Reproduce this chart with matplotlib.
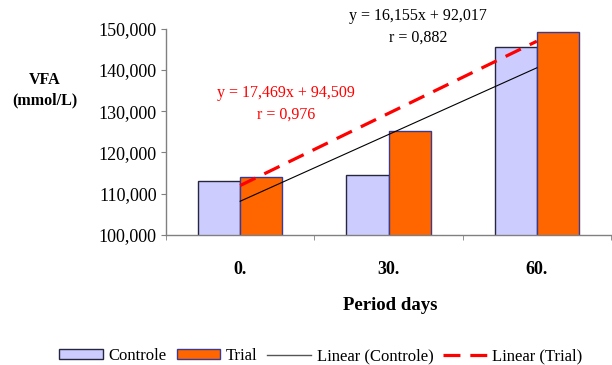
import numpy as np
import matplotlib
matplotlib.use("Agg")
import matplotlib.pyplot as plt
from matplotlib.patches import Patch
from matplotlib.lines import Line2D
from matplotlib.ticker import FuncFormatter

categories = ["0.", "30.", "60."]
controle = [113.10, 114.47, 145.41]
trial = [114.10, 125.20, 149.04]
yticks = [100, 110, 120, 130, 140, 150]
eq_controle = ["y = 16,155x + 92,017", "r = 0,882"]
eq_trial = ["y = 17,469x + 94,509", "r = 0,976"]

plt.rcParams['font.family'] = ['Liberation Serif', 'DejaVu Serif']

W, H = 612, 365
fig = plt.figure(figsize=(W / 100, H / 100), dpi=100)
ax = fig.add_axes([166 / W, 1 - 235 / H, (611 - 166) / W, (235 - 28.5) / H])

c_edge = "#262640"
t_edge = "#3A3A90"
x = np.arange(len(categories))
bw = 0.285
ax.bar(x - bw / 2, controle, width=bw, color="#CCCCFF", edgecolor=c_edge, linewidth=1.0, zorder=2)
ax.bar(x + bw / 2, trial, width=bw, color="#FF6600", edgecolor=t_edge, linewidth=1.0, zorder=2)

xs = np.array([1, 2, 3])
pc = np.polyfit(xs, controle, 1)
pt = np.polyfit(xs, trial, 1)
dash = (0, (5.3, 3.1))
ax.plot(x, np.polyval(pc, xs), color="black", lw=0.8, zorder=3)
ax.plot(x, np.polyval(pt, xs), color="#FF0000", lw=2.3, ls=dash, zorder=4)

ax.set_xlim(-0.5, 2.5)
ax.set_ylim(100, 150)
ax.set_yticks(yticks)
ax.yaxis.set_major_formatter(FuncFormatter(lambda v, p: f"{v:.3f}".replace(".", ",")))
ax.set_xticks(x)
ax.set_xticklabels(categories, fontsize=13, fontweight="bold")
ax.set_xticks([-0.5, 0.5, 1.5, 2.5], minor=True)
ax.tick_params(axis="x", which="major", length=0, pad=18.5)
ax.tick_params(axis="x", which="minor", length=3.6, color="#808080", direction="out")
ax.tick_params(axis="y", length=3.6, color="#808080", labelsize=13, direction="out", pad=3)
for s in ["top", "right"]:
    ax.spines[s].set_visible(False)
for s in ["left", "bottom"]:
    ax.spines[s].set_color("#808080")
    ax.spines[s].set_linewidth(1.0)

fig.text(45 / W, 1 - 90 / H, "VFA\n(mmol/L)", ha="center", va="center", fontsize=11.5,
         fontweight="bold", linespacing=1.35)
fig.text(390 / W, 1 - 306 / H, "Period days", ha="center", va="center", fontsize=13.5, fontweight="bold")

fig.text(418 / W, 1 - 16 / H, eq_controle[0], ha="center", va="center", fontsize=11.5, color="black")
fig.text(418 / W, 1 - 38 / H, eq_controle[1], ha="center", va="center", fontsize=11.5, color="black")
fig.text(286 / W, 1 - 93 / H, eq_trial[0], ha="center", va="center", fontsize=11.5, color="#FF0000")
fig.text(286 / W, 1 - 115 / H, eq_trial[1], ha="center", va="center", fontsize=11.5, color="#FF0000")

handles = [
    Patch(facecolor="#CCCCFF", edgecolor=c_edge, linewidth=1.0),
    Patch(facecolor="#FF6600", edgecolor=t_edge, linewidth=1.0),
    Line2D([], [], color="#555555", lw=1.0),
    Line2D([], [], color="#FF0000", lw=2.3, ls=dash),
]
labels = ["Controle", "Trial", "Linear (Controle)", "Linear (Trial)"]
fig.legend(handles, labels, loc="center", bbox_to_anchor=(321 / W, 1 - 356 / H), ncol=4,
           frameon=False, fontsize=12, handlelength=2.6, handleheight=0.5, handletextpad=0.35,
           columnspacing=0.6, borderpad=0.1)

fig.savefig("out.png", dpi=100)
